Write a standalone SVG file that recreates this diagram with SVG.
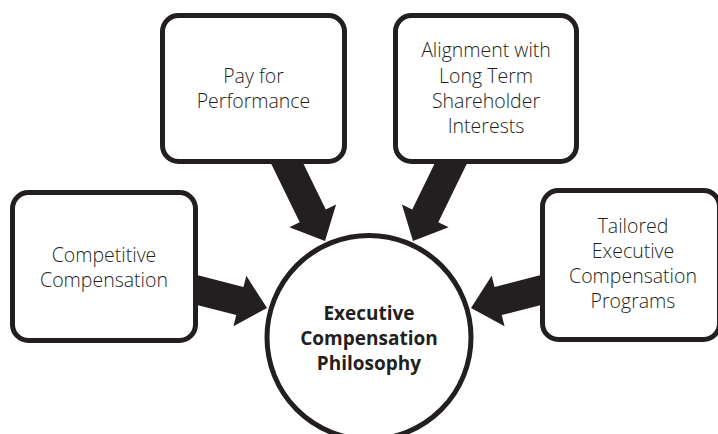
<svg xmlns="http://www.w3.org/2000/svg" xmlns:xlink="http://www.w3.org/1999/xlink" width="718" height="434" viewBox="0 0 718 434">
  <style>
    .box { fill: #ffffff; stroke: #231f20; stroke-width: 5; }
    .hub { fill: #ffffff; stroke: #231f20; stroke-width: 5; }
    .lbl { font-family: "Open Sans", "Noto Sans", "Liberation Sans", sans-serif; font-size: 19.5px; font-weight: 300; fill: #231f20; text-anchor: middle; }
    .hubl { font-family: "Open Sans", "Noto Sans", "Liberation Sans", sans-serif; font-size: 19px; font-weight: bold; fill: #231f20; text-anchor: middle; }
    .arrow { fill: #231f20; }
  </style>
  <defs>
    <!-- block arrow, tip at the origin, pointing along +x -->
    <path id="blockArrow" d="M0,0 L-28,-26 L-28,-14.5 L-100,-14.5 L-100,14.5 L-28,14.5 L-28,26 Z"/>
  </defs>
  <rect width="718" height="434" fill="#ffffff"/>

  <g id="connectors" class="arrow">
    <use xlink:href="#blockArrow" transform="translate(325,241) rotate(64)"/>
    <use xlink:href="#blockArrow" transform="translate(413,241) rotate(116)"/>
    <use xlink:href="#blockArrow" transform="translate(267,308) rotate(14.4)"/>
    <use xlink:href="#blockArrow" transform="translate(471,308) rotate(165.6)"/>
  </g>

  <g id="pay-for-performance">
    <rect class="box" x="162.5" y="15.5" width="182" height="146" rx="16"/>
    <text class="lbl" x="253.5" y="83">Pay for</text>
    <text class="lbl" x="253.5" y="108">Performance</text>
  </g>

  <g id="shareholder-alignment">
    <rect class="box" x="395.5" y="15.5" width="181" height="146" rx="16"/>
    <text class="lbl" x="486" y="57">Alignment with</text>
    <text class="lbl" x="486" y="83">Long Term</text>
    <text class="lbl" x="486" y="108">Shareholder</text>
    <text class="lbl" x="486" y="133">Interests</text>
  </g>

  <g id="competitive-compensation">
    <rect class="box" x="12.5" y="192.5" width="183" height="148" rx="16"/>
    <text class="lbl" x="104" y="262">Competitive</text>
    <text class="lbl" x="104" y="287">Compensation</text>
  </g>

  <g id="tailored-programs">
    <rect class="box" x="542.5" y="190.5" width="177" height="149" rx="16"/>
    <text class="lbl" x="633" y="233">Tailored</text>
    <text class="lbl" x="633" y="258">Executive</text>
    <text class="lbl" x="633" y="283">Compensation</text>
    <text class="lbl" x="633" y="308">Programs</text>
  </g>

  <g id="compensation-philosophy">
    <circle class="hub" cx="369" cy="337.5" r="102"/>
    <text class="hubl" x="369" y="320">Executive</text>
    <text class="hubl" x="369" y="345">Compensation</text>
    <text class="hubl" x="369" y="369.5">Philosophy</text>
  </g>
</svg>
